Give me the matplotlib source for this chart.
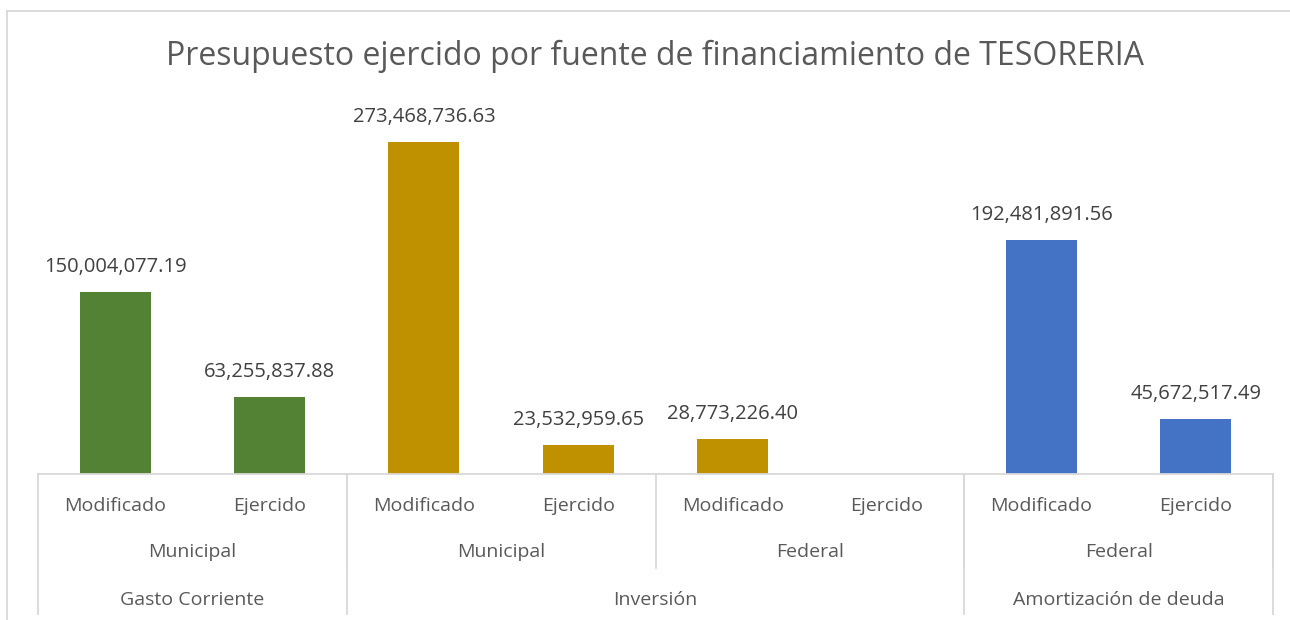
import matplotlib
matplotlib.use('Agg')
import matplotlib.pyplot as plt
from matplotlib.lines import Line2D

# Data
sub_labels = ['Modificado', 'Ejercido', 'Modificado', 'Ejercido',
              'Modificado', 'Ejercido', 'Modificado', 'Ejercido']
fuente_labels = ['Municipal', 'Municipal', 'Federal', 'Federal']
fuente_spans = [(0, 1), (2, 3), (4, 5), (6, 7)]
tipo_labels = ['Gasto Corriente', 'Inversión', 'Amortización de deuda']
tipo_spans = [(0, 1), (2, 5), (6, 7)]
values = [150004077.19, 63255837.88, 273468736.63, 23532959.65,
          28773226.40, None, 192481891.56, 45672517.49]
bar_colors = ['#548235', '#548235', '#BF9000', '#BF9000',
              '#BF9000', '#BF9000', '#4472C4', '#4472C4']

W, H = 1290, 620
fig = plt.figure(figsize=(W / 100, H / 100), dpi=100)
plt.rcParams['font.family'] = ['Open Sans', 'DejaVu Sans']

# plot area in pixels
x0, x1 = 38, 1273
ybase, ytop = 474, 110
ax = fig.add_axes([x0 / W, (H - ybase) / H, (x1 - x0) / W, (ybase - ytop) / H])
n = len(values)
ax.set_xlim(-0.5, n - 0.5)
ax.set_ylim(0, 300e6)

xs = list(range(n))
hv = [v if v is not None else 0 for v in values]
ax.bar(xs, hv, width=0.46, color=bar_colors)

for x, v in zip(xs, values):
    if v is None:
        continue
    ax.annotate(f'{v:,.2f}', xy=(x, v), xytext=(0, 18), textcoords='offset points',
                ha='center', va='center', fontsize=14.5, color='#404040')

for s in ['top', 'right', 'left']:
    ax.spines[s].set_visible(False)
ax.spines['bottom'].set_color('#d9d9d9')
ax.spines['bottom'].set_linewidth(1.3)
ax.set_xticks([])
ax.set_yticks([])

tr = ax.get_xaxis_transform()
def fy(py):
    return (ybase - py) / (ybase - ytop)

line_kw = dict(color='#d9d9d9', lw=1.3, transform=tr, clip_on=False)
label_kw = dict(transform=tr, ha='center', va='center', fontsize=14, color='#595959')

for x, lab in zip(xs, sub_labels):
    ax.text(x, fy(506), lab, **label_kw)

for (a, b), lab in zip(fuente_spans, fuente_labels):
    ax.text((a + b) / 2, fy(552), lab, **label_kw)
    ax.add_line(Line2D([b + 0.5, b + 0.5], [0, fy(568)], **line_kw))

for (a, b), lab in zip(tipo_spans, tipo_labels):
    ax.text((a + b) / 2, fy(600), lab, **label_kw)
    ax.add_line(Line2D([b + 0.5, b + 0.5], [0, fy(614)], **line_kw))
ax.add_line(Line2D([-0.5, -0.5], [0, fy(614)], **line_kw))

# outer chart border (left and top visible)
fig.add_artist(Line2D([7 / W, 7 / W], [0, 1 - 11 / H], color='#d9d9d9', lw=1.3))
fig.add_artist(Line2D([7 / W, 1], [1 - 11 / H, 1 - 11 / H], color='#d9d9d9', lw=1.3))

fig.text(655 / W, 1 - 56 / H, 'Presupuesto ejercido por fuente de financiamiento de TESORERIA',
         ha='center', va='center', fontsize=23, color='#595959')

fig.savefig('out.png', dpi=100)
